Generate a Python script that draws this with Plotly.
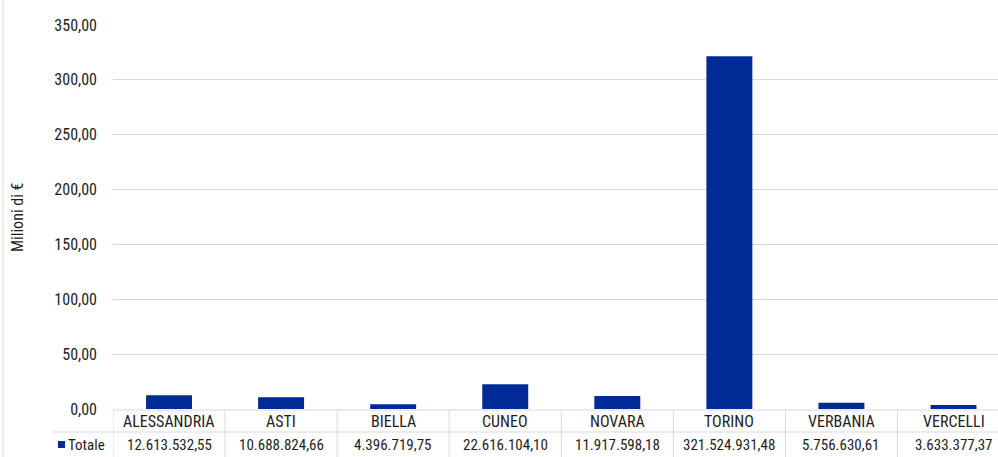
import plotly.graph_objects as go

categories = ["ALESSANDRIA", "ASTI", "BIELLA", "CUNEO", "NOVARA", "TORINO", "VERBANIA", "VERCELLI"]
totale_eur = [12613532.55, 10688824.66, 4396719.75, 22616104.10, 11917598.18, 321524931.48, 5756630.61, 3633377.37]
series_name = "Totale"
y_ticks = [0, 50, 100, 150, 200, 250, 300, 350]

values_mln = [v / 1e6 for v in totale_eur]

def it_fmt(v):
    s = f"{v:,.2f}"
    return s.replace(",", "X").replace(".", ",").replace("X", ".")

FONT = "Roboto Condensed, Archivo Narrow, DejaVu Sans Condensed, sans-serif"
FS = 16
FSV = 15
TXT = "#1e1e1e"
GRID = "#d9d9d9"
BAR = "#002A96"

W, H = 998, 457
L, R, T, B = 113, 0, 25, 48
PH = H - T - B
PW = W - L - R

def py(p):
    return (T + PH - p) / PH

def px(p):
    return (p - L) / PW

fig = go.Figure()
fig.add_trace(go.Bar(x=list(range(len(categories))), y=values_mln, name=series_name,
                     marker=dict(color=BAR, line=dict(width=0)), width=0.41, showlegend=False))

shapes = []
annotations = []
shapes.append(dict(type="line", xref="paper", yref="paper", x0=0, x1=1, y0=py(410), y1=py(410),
                   line=dict(color=GRID, width=1)))
shapes.append(dict(type="line", xref="paper", yref="paper", x0=px(52), x1=1, y0=py(432), y1=py(432),
                   line=dict(color=GRID, width=1)))
for i in range(len(categories)):
    shapes.append(dict(type="line", xref="x", yref="paper", x0=i - 0.5, x1=i - 0.5, y0=py(410), y1=py(457),
                       line=dict(color=GRID, width=1)))
shapes.append(dict(type="line", xref="paper", yref="paper", x0=px(3), x1=px(3), y0=py(0), y1=py(457),
                   line=dict(color=GRID, width=1)))
shapes.append(dict(type="rect", xref="paper", yref="paper", x0=px(58), x1=px(65), y0=py(448), y1=py(441),
                   fillcolor=BAR, line=dict(width=0)))
annotations.append(dict(text=series_name, xref="paper", yref="paper", x=px(66), y=py(445), xanchor="left",
                        yanchor="middle", showarrow=False, font=dict(family=FONT, size=FSV, color=TXT)))

for i, (c, v) in enumerate(zip(categories, totale_eur)):
    annotations.append(dict(text=c, xref="x", yref="paper", x=i, y=py(421), xanchor="center", yanchor="middle",
                            showarrow=False, font=dict(family=FONT, size=FS, color=TXT)))
    annotations.append(dict(text=it_fmt(v), xref="x", yref="paper", x=i, y=py(445), xanchor="center",
                            yanchor="middle", showarrow=False, font=dict(family=FONT, size=FSV, color=TXT)))

annotations.append(dict(text="Milioni di €", xref="paper", yref="paper", x=px(17), y=0.5, textangle=-90,
                        xanchor="center", yanchor="middle", showarrow=False,
                        font=dict(family=FONT, size=FS, color=TXT)))

fig.update_layout(
    width=W, height=H,
    margin=dict(l=L, r=R, t=T, b=B, pad=0),
    paper_bgcolor="white", plot_bgcolor="white",
    separators=",.",
    xaxis=dict(range=[-0.5, 7.397], showticklabels=False, showgrid=False, zeroline=False, showline=False,
               ticks=""),
    yaxis=dict(range=[0, 350], tickvals=y_ticks, tickformat=".2f", showgrid=True, gridcolor=GRID,
               gridwidth=1, zeroline=False, showline=False, ticks="", ticklabelstandoff=15,
               tickfont=dict(family=FONT, size=FS, color=TXT)),
    shapes=shapes, annotations=annotations,
    font=dict(family=FONT, size=FS, color=TXT),
)

fig.write_html("out.html", config={"displayModeBar": False},
               post_script="document.body.style.margin='0';")
